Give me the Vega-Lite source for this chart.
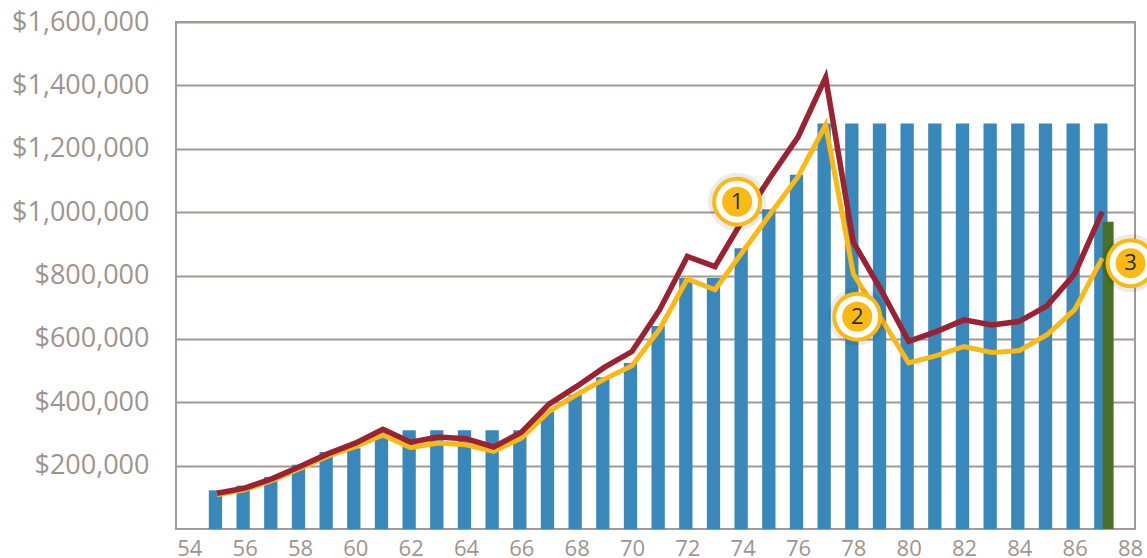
{
  "$schema": "https://vega.github.io/schema/vega-lite/v6.json",
  "autosize": "none",
  "width": 959,
  "height": 507,
  "padding": {"left": 176, "top": 22, "right": 12, "bottom": 29},
  "background": "white",
  "config": {
    "view": {"stroke": "#a39a97", "strokeWidth": 2},
    "axis": {"labelFont": "Open Sans", "labelColor": "#a0948f", "ticks": false, "domain": false, "title": null}
  },
  "datasets": {
    "blue": [
      {"age": 55, "value": 122000}, {"age": 56, "value": 137000}, {"age": 57, "value": 164000},
      {"age": 58, "value": 203000}, {"age": 59, "value": 243000}, {"age": 60, "value": 255000},
      {"age": 61, "value": 312000}, {"age": 62, "value": 312000}, {"age": 63, "value": 312000},
      {"age": 64, "value": 312000}, {"age": 65, "value": 312000}, {"age": 66, "value": 312000},
      {"age": 67, "value": 371000}, {"age": 68, "value": 424000}, {"age": 69, "value": 479000},
      {"age": 70, "value": 524000}, {"age": 71, "value": 641000}, {"age": 72, "value": 792000},
      {"age": 73, "value": 792000}, {"age": 74, "value": 886000}, {"age": 75, "value": 1009000},
      {"age": 76, "value": 1118000}, {"age": 77, "value": 1280000}, {"age": 78, "value": 1280000},
      {"age": 79, "value": 1280000}, {"age": 80, "value": 1280000}, {"age": 81, "value": 1280000},
      {"age": 82, "value": 1280000}, {"age": 83, "value": 1280000}, {"age": 84, "value": 1280000},
      {"age": 85, "value": 1280000}, {"age": 86, "value": 1280000}, {"age": 87, "value": 1280000}
    ],
    "green": [{"age": 87, "value": 970000}],
    "red": [
      {"age": 55, "value": 113000}, {"age": 56, "value": 129000}, {"age": 57, "value": 159000},
      {"age": 58, "value": 197000}, {"age": 59, "value": 237000}, {"age": 60, "value": 271000},
      {"age": 61, "value": 315000}, {"age": 62, "value": 274000}, {"age": 63, "value": 290000},
      {"age": 64, "value": 285000}, {"age": 65, "value": 259000}, {"age": 66, "value": 305000},
      {"age": 67, "value": 394000}, {"age": 68, "value": 450000}, {"age": 69, "value": 510000},
      {"age": 70, "value": 560000}, {"age": 71, "value": 692000}, {"age": 72, "value": 860000},
      {"age": 73, "value": 828000}, {"age": 74, "value": 975000}, {"age": 75, "value": 1110000},
      {"age": 76, "value": 1237000}, {"age": 77, "value": 1425000}, {"age": 78, "value": 905000},
      {"age": 79, "value": 755000}, {"age": 80, "value": 592000}, {"age": 81, "value": 623000},
      {"age": 82, "value": 660000}, {"age": 83, "value": 644000}, {"age": 84, "value": 655000},
      {"age": 85, "value": 704000}, {"age": 86, "value": 805000}, {"age": 87, "value": 1002000}
    ],
    "yellow": [
      {"age": 55, "value": 108000}, {"age": 56, "value": 124000}, {"age": 57, "value": 153000},
      {"age": 58, "value": 191000}, {"age": 59, "value": 230000}, {"age": 60, "value": 260000},
      {"age": 61, "value": 297000}, {"age": 62, "value": 257000}, {"age": 63, "value": 271000},
      {"age": 64, "value": 266000}, {"age": 65, "value": 245000}, {"age": 66, "value": 287000},
      {"age": 67, "value": 371000}, {"age": 68, "value": 424000}, {"age": 69, "value": 473000},
      {"age": 70, "value": 515000}, {"age": 71, "value": 631000}, {"age": 72, "value": 789000},
      {"age": 73, "value": 755000}, {"age": 74, "value": 875000}, {"age": 75, "value": 995000},
      {"age": 76, "value": 1112000}, {"age": 77, "value": 1275000}, {"age": 78, "value": 805000},
      {"age": 79, "value": 665000}, {"age": 80, "value": 524000}, {"age": 81, "value": 547000},
      {"age": 82, "value": 576000}, {"age": 83, "value": 557000}, {"age": 84, "value": 563000},
      {"age": 85, "value": 613000}, {"age": 86, "value": 692000}, {"age": 87, "value": 855000}
    ],
    "notes": [
      {"n": "1", "age": 73.8, "value": 1033000},
      {"n": "2", "age": 78.14, "value": 670000},
      {"n": "3", "age": 88.02, "value": 839000}
    ]
  },
  "encoding": {
    "x": {
      "field": "age", "type": "quantitative",
      "scale": {"domain": [53.7, 88], "nice": false, "zero": false},
      "axis": {"values": [54,56,58,60,62,64,66,68,70,72,74,76,78,80,82,84,86,88], "format": "d", "labelFontSize": 22, "labelPadding": 9, "grid": false}
    },
    "y": {
      "field": "value", "type": "quantitative",
      "scale": {"domain": [0, 1600000], "nice": false},
      "axis": {"values": [200000,400000,600000,800000,1000000,1200000,1400000,1600000], "format": "$,.0f", "labelFontSize": 27, "labelPadding": 27, "grid": true, "gridColor": "#a39a97", "gridWidth": 2, "gridOpacity": 1}
    }
  },
  "layer": [
    {"data": {"name": "blue"}, "mark": {"type": "bar", "orient": "vertical", "size": 13.3, "xOffset": -1.5, "color": "#3988bc"}},
    {"data": {"name": "green"}, "mark": {"type": "bar", "orient": "vertical", "size": 11, "xOffset": 5.8, "color": "#4b7129"}},
    {"data": {"name": "yellow"}, "mark": {"type": "line", "color": "#fdb913", "strokeWidth": 5, "strokeJoin": "miter"}},
    {"data": {"name": "red"}, "mark": {"type": "line", "color": "#9b2232", "strokeWidth": 5.5, "strokeJoin": "miter"}},
    {"data": {"name": "notes"}, "mark": {"type": "point", "shape": "circle", "filled": true, "size": 3364, "color": "#000000", "opacity": 0.08}},
    {"data": {"name": "notes"}, "mark": {"type": "point", "shape": "circle", "filled": true, "size": 2500, "color": "#fdb913", "opacity": 1}},
    {"data": {"name": "notes"}, "mark": {"type": "point", "shape": "circle", "filled": true, "size": 1764, "color": "#ffffff", "opacity": 1}},
    {"data": {"name": "notes"}, "mark": {"type": "point", "shape": "circle", "filled": true, "size": 900, "color": "#fdb913", "opacity": 1}},
    {"data": {"name": "notes"}, "mark": {"type": "text", "font": "Open Sans", "fontSize": 22, "color": "#1c2e3a", "align": "center", "baseline": "middle"}, "encoding": {"text": {"field": "n"}}}
  ]
}
